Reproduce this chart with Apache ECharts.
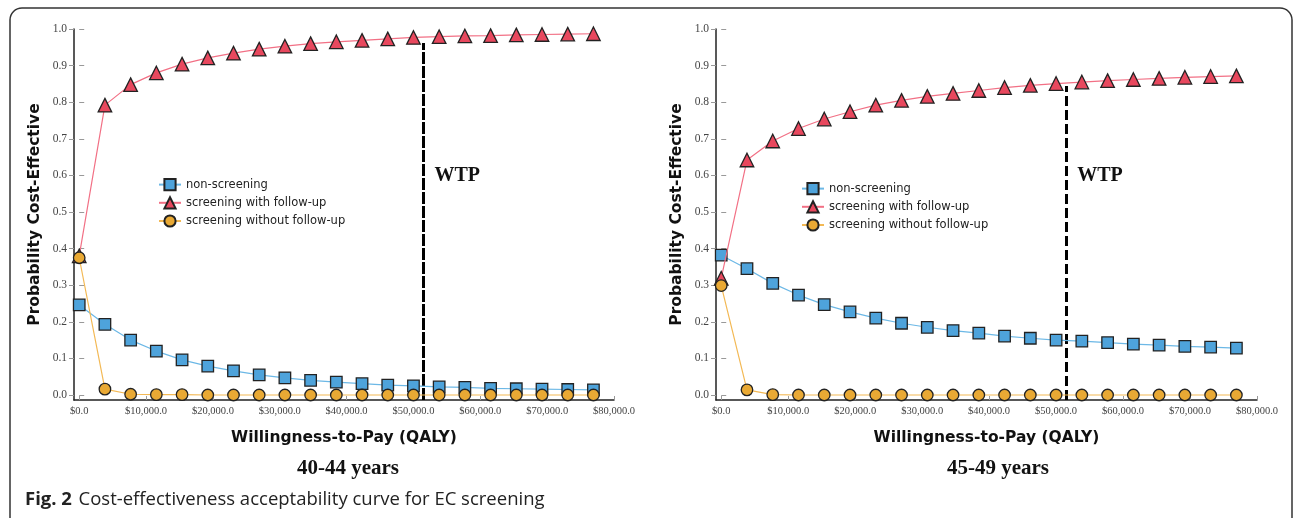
<!DOCTYPE html>
<html><head><meta charset="utf-8">
<script src="https://cdn.jsdelivr.net/npm/echarts@6/dist/echarts.min.js"></script>
<style>html,body{margin:0;padding:0;background:#fff}#c{width:1295px;height:518px}</style>
</head><body><div id="c"></div>
<script>
// ---- data ----
const wtpX = [0, 3846, 7692, 11538, 15385, 19231, 23077, 26923, 30769, 34615, 38462,
              42308, 46154, 50000, 53846, 57692, 61538, 65385, 69231, 73077, 76923];
const seriesNames = ['non-screening', 'screening with follow-up', 'screening without follow-up'];

const left_non   = [0.246,0.193,0.150,0.120,0.096,0.079,0.066,0.055,0.047,0.040,0.035,0.031,0.027,0.025,0.022,0.021,0.018,0.017,0.016,0.015,0.014];
const left_with  = [0.380,0.792,0.848,0.880,0.904,0.921,0.934,0.945,0.953,0.960,0.965,0.969,0.973,0.977,0.979,0.981,0.982,0.984,0.985,0.986,0.987];
const left_wo    = [0.375,0.016,0.002,0.001,0.001,0,0,0,0,0,0,0,0,0,0,0,0,0,0,0,0];

const right_non  = [0.382,0.345,0.305,0.273,0.247,0.227,0.210,0.196,0.185,0.176,0.169,0.161,0.155,0.150,0.147,0.143,0.139,0.136,0.133,0.131,0.128];
const right_with = [0.319,0.642,0.694,0.728,0.754,0.774,0.792,0.805,0.816,0.824,0.832,0.840,0.846,0.851,0.855,0.859,0.862,0.865,0.868,0.870,0.872];
const right_wo   = [0.299,0.014,0.001,0,0,0,0,0,0,0,0,0,0,0,0,0,0,0,0,0,0];

const yTicks = [0,0.1,0.2,0.3,0.4,0.5,0.6,0.7,0.8,0.9,1.0];
const xTicks = [0,10000,20000,30000,40000,50000,60000,70000,80000];
const wtpValue = 51500;
const wtpTop = [0.962, 0.844];
const panelTitles = ['40-44 years', '45-49 years'];
const captionBold = 'Fig. 2';
const captionText = 'Cost-effectiveness acceptability curve for EC screening';

// ---- styling ----
const X_MIN = -780, X_MAX = 80000, Y_MIN = -0.0137, Y_MAX = 1.0;
const colors = {
  non:  {fill:'#4ea3db', line:'#6cb8e6', symbol:'rect', size:11.5},
  with: {fill:'#e8485e', line:'#f27085', symbol:'triangle', size:13.5},
  wo:   {fill:'#e9a934', line:'#f3b955', symbol:'circle', size:11.5}
};
const dashes = [[12,2],[10,4]];

function fmtMoney(v){ return '$' + String(v).replace(/\B(?=(\d{3})+(?!\d))/g, ',') + '.0'; }
function pairs(vals){ return vals.map((v,i)=>[wtpX[i], v]); }

const grids = [
  {left:74, top:29, width:540, height:371, outerBoundsMode:'none'},
  {left:716, top:29, width:541, height:371, outerBoundsMode:'none'}
];

const xAxes = [], yAxes = [], series = [];
[0,1].forEach(g=>{
  xAxes.push({
    type:'value', gridIndex:g, min:X_MIN, max:X_MAX,
    name:'Willingness-to-Pay (QALY)', nameLocation:'middle', nameGap:30,
    nameTextStyle:{fontFamily:'DejaVu Sans', fontWeight:'bold', fontSize:15.5, color:'#111'},
    axisLine:{show:true, onZero:false, lineStyle:{color:'#222', width:1.5}},
    axisTick:{show:true, inside:true, length:4, customValues:xTicks, lineStyle:{color:'#999'}},
    axisLabel:{customValues:xTicks, formatter:fmtMoney, margin:6,
      fontFamily:'Liberation Serif', fontSize:10.5, color:'#444'},
    splitLine:{show:false}
  });
  yAxes.push({
    type:'value', gridIndex:g, min:Y_MIN, max:Y_MAX,
    name:'Probability Cost-Effective', nameLocation:'middle', nameGap:31,
    nameTextStyle:{fontFamily:'DejaVu Sans', fontWeight:'bold', fontSize:15.5, color:'#111'},
    axisLine:{show:true, onZero:false, lineStyle:{color:'#222', width:1.5}},
    axisTick:{show:true, length:5, customValues:yTicks, lineStyle:{color:'#999'}},
    axisLabel:{customValues:yTicks, formatter:v=>v.toFixed(1), margin:7,
      fontFamily:'Liberation Serif', fontSize:11.5, color:'#444'},
    splitLine:{show:false}
  });
  // companion axis for inner half of the crossing ticks
  yAxes.push({
    type:'value', gridIndex:g, min:Y_MIN, max:Y_MAX, position:'left',
    axisLine:{show:false}, axisLabel:{show:false}, splitLine:{show:false},
    axisTick:{show:true, inside:true, length:5, customValues:yTicks, lineStyle:{color:'#999'}}
  });
});

const panels = [
  {non:left_non, with:left_with, wo:left_wo},
  {non:right_non, with:right_with, wo:right_wo}
];
panels.forEach((p,g)=>{
  const keys = ['non','with','wo'];
  keys.forEach((k,i)=>{
    const c = colors[k];
    const s = {
      type:'line', name:seriesNames[i], xAxisIndex:g, yAxisIndex:g*2,
      data:pairs(p[k]), symbol:c.symbol, symbolSize:c.size, showAllSymbol:true,
      color:c.fill,
      lineStyle:{color:c.line, width:1.2},
      itemStyle:{color:c.fill, borderColor:'#222', borderWidth:1.3},
      emphasis:{disabled:true}, animation:false, z:2+i
    };
    if (k === 'with') {
      s.markLine = {
        symbol:'none', silent:true, animation:false, z:1,
        label:{show:false},
        lineStyle:{color:'#000', width:3, type:dashes[g]},
        data:[[{coord:[wtpValue, Y_MIN]}, {coord:[wtpValue, wtpTop[g]]}]]
      };
      s.markPoint = {
        symbol:'circle', symbolSize:0, silent:true, animation:false,
        data:[{coord:[wtpValue, 0.598]}],
        label:{show:true, formatter:'WTP', position:'right', distance:11,
          fontFamily:'Liberation Serif', fontWeight:'bold', fontSize:20, color:'#111'}
      };
    }
    series.push(s);
  });
});

const legendBase = {
  orient:'vertical', itemGap:5, itemWidth:22, itemHeight:14, padding:0,
  data:seriesNames, selectedMode:false,
  textStyle:{fontFamily:'DejaVu Sans', fontSize:11.5, color:'#222'}
};

const option = {
  backgroundColor:'#fff',
  animation:false,
  grid:grids,
  xAxis:xAxes,
  yAxis:yAxes,
  legend:[
    Object.assign({left:158, top:178}, legendBase),
    Object.assign({left:801, top:182}, legendBase)
  ],
  series:series,
  graphic:[
    {type:'rect', shape:{x:10, y:8, width:1282, height:530, r:12}, silent:true,
     style:{fill:'none', stroke:'#333', lineWidth:1.5}, z:-10},
    {type:'text', x:348, y:469, style:{text:panelTitles[0], font:'bold 21px "Liberation Serif"', fill:'#111', align:'center', verticalAlign:'middle'}},
    {type:'text', x:998, y:469, style:{text:panelTitles[1], font:'bold 21px "Liberation Serif"', fill:'#111', align:'center', verticalAlign:'middle'}},
    {type:'text', x:25, y:500, style:{
      text:'{b|' + captionBold + '}  {r|' + captionText + '}',
      verticalAlign:'middle', fill:'#222',
      rich:{
        b:{font:'bold 18.5px "Open Sans"', fill:'#222'},
        r:{font:'18.5px "Open Sans"', fill:'#222'}
      }
    }}
  ]
};

const chart = echarts.init(document.getElementById('c'), null, {renderer:'canvas'});
chart.setOption(option);
</script>
</body></html>
